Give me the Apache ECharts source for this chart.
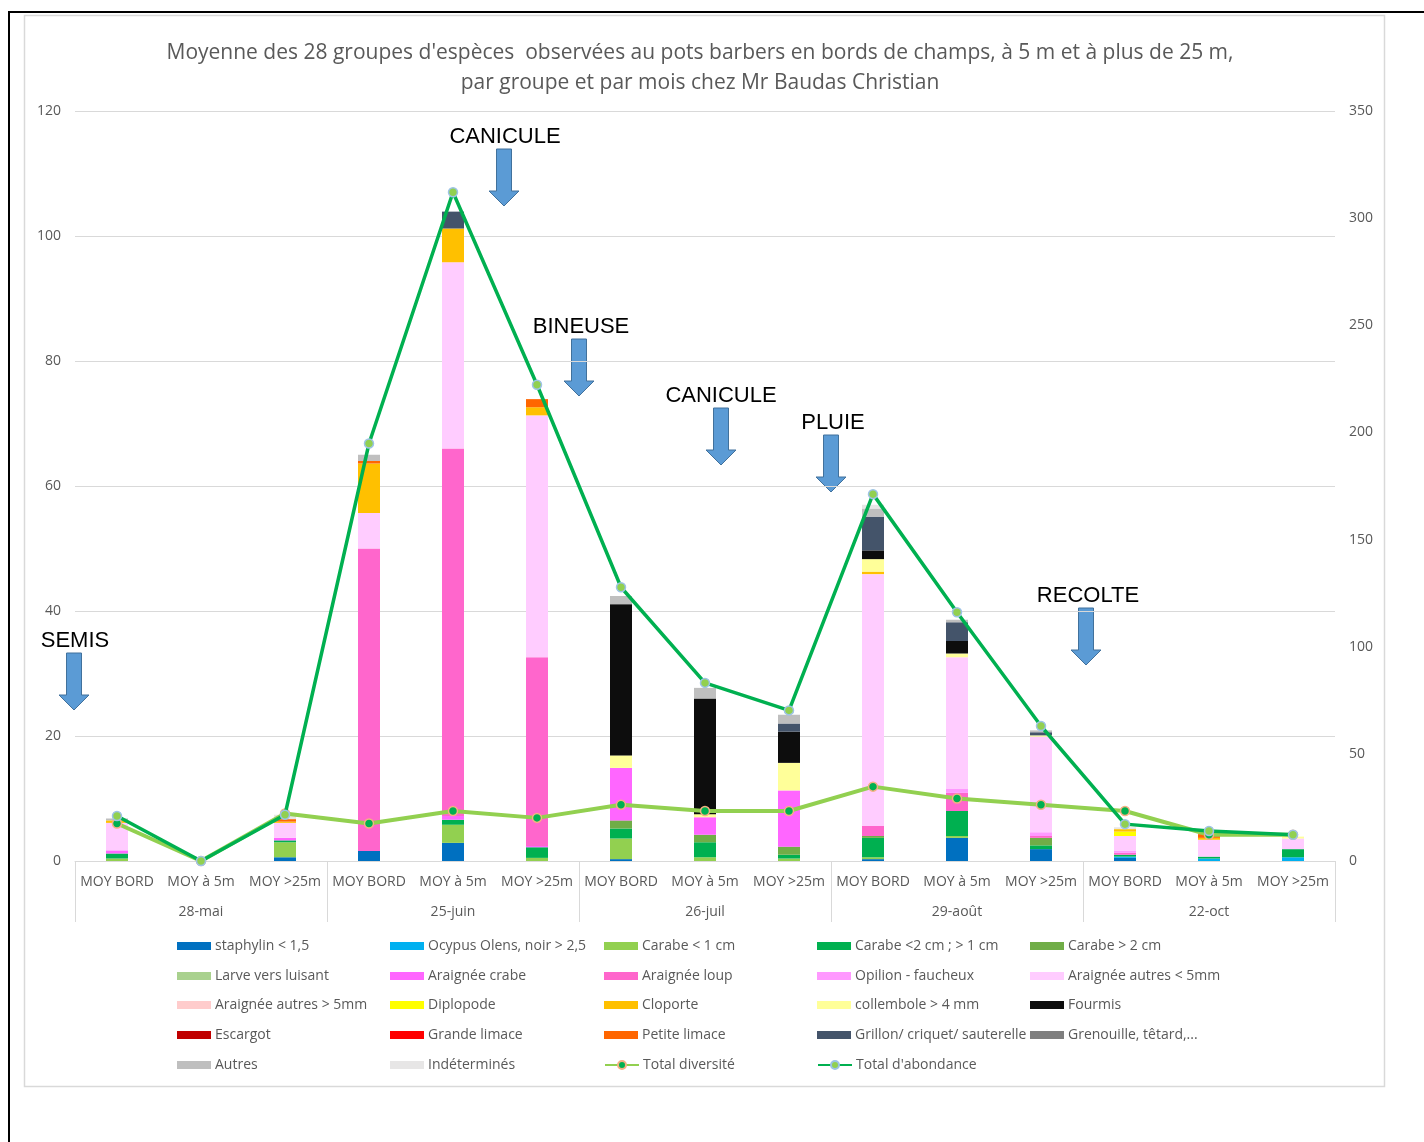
<!DOCTYPE html>
<html>
<head>
<meta charset="utf-8">
<script src="https://cdn.jsdelivr.net/npm/echarts@6/dist/echarts.min.js"></script>
<style>
  html, body { margin: 0; padding: 0; background: #fff; }
  #chart { width: 1424px; height: 1142px; }
</style>
</head>
<body>
<div id="chart"></div>
<script>
// categories
const positions = ["MOY BORD", "MOY à 5m", "MOY >25m"];
const months = ["28-mai", "25-juin", "26-juil", "29-août", "22-oct"];
const categories = months.flatMap(() => positions);

// series values, one per group (15 points: 5 months x 3 positions)
const staphylin     = [0, 0, 0.6, 1.6, 2.9, 0, 0.3, 0, 0, 0.3, 3.7, 1.9, 0.5, 0, 0];
const ocypus        = [0, 0, 0, 0, 0, 0, 0, 0, 0, 0, 0, 0, 0.2, 0.4, 0.6];
const carabePetit   = [0.4, 0, 2.4, 0, 2.9, 0.5, 3.3, 0.6, 0.4, 0.3, 0.3, 0, 0, 0, 0];
const carabeMoyen   = [0.8, 0, 0.3, 0, 0.8, 1.7, 1.6, 2.4, 0.6, 3.1, 4.0, 0.6, 0.3, 0.3, 1.3];
const carabeGrand   = [0, 0, 0, 0, 0, 0, 1.3, 1.2, 1.3, 0.3, 0, 1.2, 0, 0, 0];
const larve         = [0, 0, 0, 0, 0, 0, 0, 0, 0, 0, 0, 0, 0, 0, 0];
const araigneeCrabe = [0.5, 0, 0.4, 0, 0.6, 0.2, 8.4, 2.8, 9.0, 0, 0, 0, 0, 0, 0];
const araigneeLoup  = [0, 0, 0, 48.4, 58.8, 30.2, 0, 0, 0, 1.6, 2.9, 0.3, 0.3, 0, 0];
const opilion       = [0, 0, 0, 0, 0, 0, 0, 0, 0, 0, 0.7, 0.6, 0.3, 0, 0];
const araigneePetit = [4.4, 0, 2.4, 5.7, 29.8, 38.7, 0, 0, 0, 40.3, 21.0, 15.3, 2.4, 2.7, 1.7];
const araigneeGrand = [0, 0, 0, 0, 0, 0, 0, 0, 0, 0, 0, 0, 0, 0, 0];
const diplopode     = [0, 0, 0, 0, 0, 0, 0, 0, 0, 0, 0, 0, 0.7, 0, 0];
const cloporte      = [0.4, 0, 0.2, 7.9, 5.4, 1.3, 0, 0, 0, 0.4, 0, 0, 0.4, 0.3, 0];
const collembole    = [0, 0, 0, 0, 0, 0, 2.0, 0.5, 4.4, 2.0, 0.6, 0.2, 0, 0, 0.3];
const fourmis       = [0, 0, 0, 0, 0, 0, 24.2, 18.5, 5.0, 1.4, 2.0, 0, 0, 0, 0];
const escargot      = [0, 0, 0, 0, 0, 0, 0, 0, 0, 0, 0, 0, 0, 0, 0];
const grandeLimace  = [0, 0, 0, 0, 0, 0, 0, 0, 0, 0, 0, 0, 0, 0, 0];
const petiteLimace  = [0, 0, 0.4, 0.4, 0, 1.3, 0, 0, 0, 0, 0, 0, 0, 0.6, 0];
const grillon       = [0, 0, 0, 0, 2.7, 0, 0, 0, 1.3, 5.4, 3.0, 0.5, 0, 0, 0];
const grenouille    = [0, 0, 0, 0, 0, 0, 0, 0, 0, 0, 0, 0, 0, 0, 0];
const autres        = [0.3, 0, 0, 1.0, 0, 0, 1.3, 1.7, 1.4, 1.3, 0.4, 0.3, 0, 0, 0];
const indetermines  = [0, 0, 0.7, 0, 0, 0, 0, 0, 0, 0.6, 0, 0, 0.3, 0, 0];

const totalDiversite = [6.0, 0, 7.6, 6.0, 8.0, 6.9, 9.0, 8.0, 8.0, 11.9, 10.0, 9.0, 8.0, 4.2, 4.2];
const totalAbondance = [7.2, 0, 7.4, 66.8, 107, 76.2, 43.8, 28.5, 24.1, 58.7, 39.8, 21.6, 5.9, 4.8, 4.2];

// tick labels
const leftTicks = { min: 0, max: 120, interval: 20 };
const rightTicks = { min: 0, max: 350, interval: 50 };

const groups = [
  ["staphylin < 1,5", staphylin, "#0070C0"],
  ["Ocypus Olens, noir > 2,5", ocypus, "#00B0F0"],
  ["Carabe < 1 cm", carabePetit, "#92D050"],
  ["Carabe <2 cm ; > 1 cm", carabeMoyen, "#00B050"],
  ["Carabe > 2 cm", carabeGrand, "#70AD47"],
  ["Larve vers luisant", larve, "#A9D18E"],
  ["Araignée crabe", araigneeCrabe, "#FF66FF"],
  ["Araignée loup", araigneeLoup, "#FF66CC"],
  ["Opilion - faucheux", opilion, "#FF99FF"],
  ["Araignée autres < 5mm", araigneePetit, "#FFCCFF"],
  ["Araignée autres > 5mm", araigneeGrand, "#FFCCCC"],
  ["Diplopode", diplopode, "#FFFF00"],
  ["Cloporte", cloporte, "#FFC000"],
  ["collembole > 4 mm", collembole, "#FFFF99"],
  ["Fourmis", fourmis, "#0D0D0D"],
  ["Escargot", escargot, "#C00000"],
  ["Grande limace", grandeLimace, "#FF0000"],
  ["Petite limace", petiteLimace, "#FF6600"],
  ["Grillon/ criquet/ sauterelle", grillon, "#44546A"],
  ["Grenouille, têtard,...", grenouille, "#7F7F7F"],
  ["Autres", autres, "#BFBFBF"],
  ["Indéterminés", indetermines, "#E7E6E6"]
];

const FONT = "Open Sans";
const GREY = "#595959";

const chart = echarts.init(document.getElementById("chart"));

const barSeries = groups.map(([name, values, color]) => ({
  name,
  type: "bar",
  stack: "total",
  barWidth: 22,
  data: values,
  itemStyle: { color },
  emphasis: { disabled: true }
}));

const lineSeries = [
  {
    name: "Total diversité",
    type: "line",
    data: totalDiversite,
    symbol: "circle",
    symbolSize: 9,
    lineStyle: { color: "#92D050", width: 4 },
    itemStyle: { color: "#00B050", borderColor: "#F4B183", borderWidth: 1.5 },
    z: 5
  },
  {
    name: "Total d'abondance",
    type: "line",
    data: totalAbondance,
    symbol: "circle",
    symbolSize: 9,
    lineStyle: { color: "#00B050", width: 3.5 },
    itemStyle: { color: "#92D050", borderColor: "#9DC3E6", borderWidth: 1.5 },
    z: 6
  }
];

// legend: 5 columns, one small legend per entry so the columns line up
const legendNames = groups.map(g => g[0]).concat(["Total diversité", "Total d'abondance"]);
const colX = [177, 390, 604, 817, 1030];
const rowY = [945, 975, 1004, 1034, 1064];
const legends = legendNames.map((name, i) => {
  const isLine = name.startsWith("Total");
  return {
    data: [name],
    left: colX[i % 5],
    top: rowY[Math.floor(i / 5)] - 7,
    padding: 0,
    itemWidth: 34,
    itemHeight: isLine ? 10 : 8,
    icon: isLine ? undefined : "rect",
    selectedMode: false,
    textStyle: { fontFamily: FONT, fontSize: 14, color: GREY, lineHeight: 16, padding: [0, 0, 0, -1] }
  };
});

// block arrows and notes
function note(label, tx, ty, ax, atop) {
  return [
    {
      type: "text",
      style: { text: label, x: tx, y: ty, align: "center", verticalAlign: "middle",
               font: "22px 'Liberation Sans', Arial, sans-serif", fill: "#000" }
    },
    {
      type: "polygon",
      shape: { points: [
        [ax - 7.5, atop], [ax + 7.5, atop], [ax + 7.5, atop + 42], [ax + 15, atop + 42],
        [ax, atop + 57], [ax - 15, atop + 42], [ax - 7.5, atop + 42]
      ] },
      style: { fill: "#5B9BD5", stroke: "#41719C", lineWidth: 1 }
    }
  ];
}

const graphics = [
  { type: "rect", shape: { x: 9, y: 12, width: 1500, height: 1300 },
    style: { fill: "none", stroke: "#000", lineWidth: 2 }, silent: true },
  { type: "rect", shape: { x: 24.5, y: 15.5, width: 1360, height: 1071 },
    style: { fill: "none", stroke: "#D9D9D9", lineWidth: 1.5 }, silent: true },
  {
    type: "text",
    style: {
      text: "Moyenne des 28 groupes d'espèces  observées au pots barbers en bords de champs, à 5 m et à plus de 25 m,\npar groupe et par mois chez Mr Baudas Christian",
      x: 700, y: 68, align: "center", verticalAlign: "middle",
      font: "21px '" + FONT + "'", lineHeight: 30, fill: GREY
    }
  },
  ...note("SEMIS", 75, 641, 74, 653),
  ...note("CANICULE", 505, 137, 504, 149),
  ...note("BINEUSE", 581, 327, 579, 339),
  ...note("CANICULE", 721, 396, 721, 408),
  ...note("PLUIE", 833, 423, 831, 435),
  ...note("RECOLTE", 1088, 596, 1086, 608)
];

const option = {
  animation: false,
  backgroundColor: "#fff",
  textStyle: { fontFamily: FONT },
  grid: { left: 75, right: 89, top: 111, bottom: 281 },
  legend: legends,
  xAxis: [
    {
      type: "category",
      data: categories,
      axisLine: { lineStyle: { color: "#D9D9D9", width: 1 } },
      axisTick: { show: false },
      axisLabel: { color: GREY, fontSize: 14, margin: 14, interval: 0 }
    },
    {
      type: "category",
      data: months,
      position: "bottom",
      axisLine: { show: false },
      axisTick: { show: true, length: 61, lineStyle: { color: "#D9D9D9" } },
      axisLabel: { color: GREY, fontSize: 14, margin: 44 }
    }
  ],
  yAxis: [
    {
      type: "value",
      ...leftTicks,
      axisLine: { show: false },
      axisTick: { show: false },
      splitLine: { lineStyle: { color: "#D9D9D9" } },
      axisLabel: { color: GREY, fontSize: 14, margin: 14 }
    },
    {
      type: "value",
      position: "right",
      ...rightTicks,
      axisLine: { show: false },
      axisTick: { show: false },
      splitLine: { show: false },
      axisLabel: { color: GREY, fontSize: 14, margin: 14 }
    }
  ],
  series: [...barSeries, ...lineSeries],
  graphic: graphics
};

chart.setOption(option);
</script>
</body>
</html>
